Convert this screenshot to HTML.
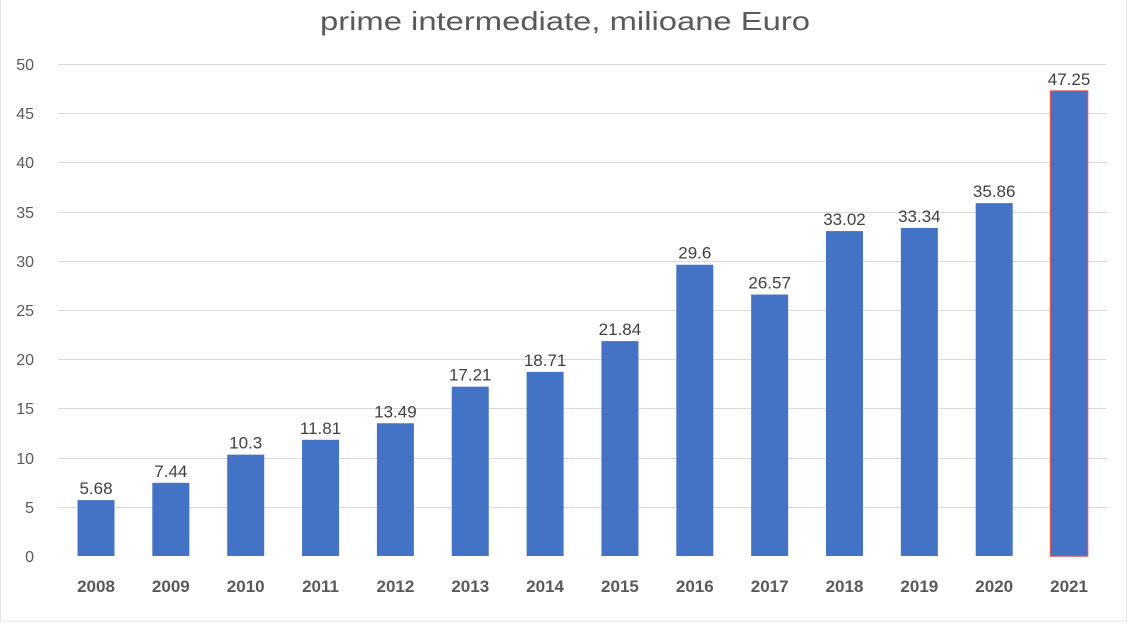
<!DOCTYPE html>
<html><head><style>body{margin:0;background:#fff}svg{display:block}</style></head><body>
<svg width="1130" height="625" xmlns="http://www.w3.org/2000/svg" font-family="Liberation Sans, sans-serif">
<rect x="0.5" y="-1" width="1126" height="622" fill="#fff" stroke="#e6e6e6"/>
<text x="320" y="30" font-size="26" fill="#595959" textLength="490" lengthAdjust="spacingAndGlyphs">prime intermediate, milioane Euro</text>
<g stroke="#d9d9d9" stroke-width="1">
<line x1="58" x2="1107" y1="64.5" y2="64.5"/><line x1="58" x2="1107" y1="113.5" y2="113.5"/>
<line x1="58" x2="1107" y1="162.5" y2="162.5"/><line x1="58" x2="1107" y1="212.5" y2="212.5"/>
<line x1="58" x2="1107" y1="261.5" y2="261.5"/><line x1="58" x2="1107" y1="310.5" y2="310.5"/>
<line x1="58" x2="1107" y1="359.5" y2="359.5"/><line x1="58" x2="1107" y1="408.5" y2="408.5"/>
<line x1="58" x2="1107" y1="458.5" y2="458.5"/><line x1="58" x2="1107" y1="507.5" y2="507.5"/>
</g>
<g font-size="16" fill="#595959" text-anchor="end">
<text x="34" y="70">50</text><text x="34" y="119">45</text><text x="34" y="168">40</text><text x="34" y="218">35</text>
<text x="34" y="267">30</text><text x="34" y="316">25</text><text x="34" y="365">20</text><text x="34" y="414">15</text>
<text x="34" y="464">10</text><text x="34" y="513">5</text><text x="34" y="562">0</text>
</g>
<script>
var v=[5.68,7.44,10.3,11.81,13.49,17.21,18.71,21.84,29.6,26.57,33.02,33.34,35.86,47.25];
var ns='http://www.w3.org/2000/svg',svg=document.querySelector('svg');
v.forEach(function(d,i){
var cx=96+i*74.85,h=d*9.84,y=556-h;
var r=document.createElementNS(ns,'rect');r.setAttribute('x',cx-18.5);r.setAttribute('y',y);r.setAttribute('width',37);r.setAttribute('height',h);r.setAttribute('fill','#4472c4');
if(i==13){r.setAttribute('stroke','#d9534f');r.setAttribute('stroke-width','1.5');}
svg.appendChild(r);
var t=document.createElementNS(ns,'text');t.setAttribute('x',cx);t.setAttribute('y',y-6);t.setAttribute('text-anchor','middle');t.setAttribute('font-size','17');t.setAttribute('fill','#404040');t.textContent=String(d);svg.appendChild(t);
var l=document.createElementNS(ns,'text');l.setAttribute('x',cx);l.setAttribute('y',592);l.setAttribute('text-anchor','middle');l.setAttribute('font-size','17');l.setAttribute('font-weight','bold');l.setAttribute('fill','#595959');l.textContent=String(2008+i);svg.appendChild(l);
});
</script>
</svg>
</body></html>
